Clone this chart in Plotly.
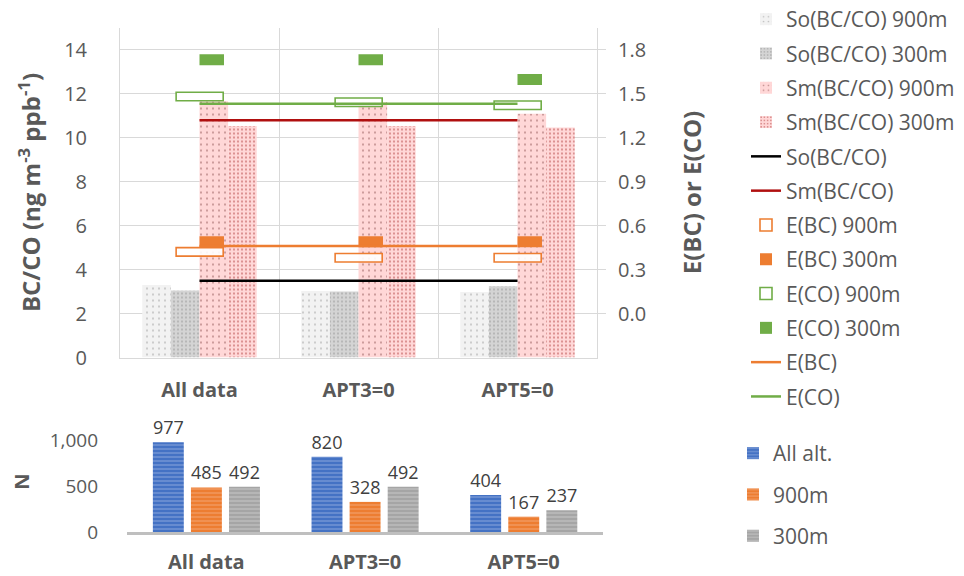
import plotly.graph_objects as go

# ---------------- data ----------------
categories = ["All data", "APT3=0", "APT5=0"]

so_900 = [3.30, 3.02, 2.98]
so_300 = [3.04, 3.00, 3.24]
sm_900 = [11.65, 11.60, 11.08]
sm_300 = [10.52, 10.52, 10.46]
so_mean = [3.49, 3.49, 3.49]
sm_mean = [10.78, 10.78, 10.78]

e_bc_900 = [0.42, 0.38, 0.38]
e_bc_300 = [0.49, 0.49, 0.49]
e_co_900 = [1.48, 1.44, 1.42]
e_co_300 = [1.73, 1.73, 1.595]
e_bc_mean = [0.46, 0.46, 0.46]
e_co_mean = [1.43, 1.43, 1.43]

n_all = [977, 820, 404]
n_900 = [485, 328, 167]
n_300 = [492, 492, 237]

left_ticks = [0, 2, 4, 6, 8, 10, 12, 14]
right_ticks = [0.0, 0.3, 0.6, 0.9, 1.2, 1.5, 1.8]
n_ticks = [0, 500, 1000]

# ---------------- style ----------------
W, H = 964, 576
FONT = "Open Sans"
TXT = "#595959"
GRID = "#d9d9d9"
ORANGE = "#ed7d31"
GREEN = "#70ad47"
BW = 0.18            # top bar width (category units)
HOLLOW_W, HOLLOW_OFF = 0.296, -0.147
FILL_W, FILL_OFF = 0.154, 0.0
HOLLOW_H = 0.058     # marker thickness in right-axis units
FILL_H = 0.075


def bx(p):
    return p / W


def by(p):
    return 1 - p / H


fig = go.Figure()

bar_specs = [
    ("So(BC/CO) 900m", so_900, -2 * BW, "#f2f2f2", "#8c8c8c", 6, 0.09),
    ("So(BC/CO) 300m", so_300, -BW, "#d4d4d4", "#8c8c8c", 4, 0.22),
    ("Sm(BC/CO) 900m", sm_900, 0.0, "#ffd7d7", "#7a3a3a", 6, 0.09),
    ("Sm(BC/CO) 300m", sm_300, BW, "#ffd7d7", "#a62a2a", 4, 0.22),
]
for name, vals, off, bg, fg, size, sol in bar_specs:
    fig.add_trace(go.Bar(
        x=categories, y=vals, name=name, width=BW, offset=off,
        xaxis="x", yaxis="y", legend="legend",
        marker=dict(color=bg, line=dict(width=0),
                    pattern=dict(shape=".", bgcolor=bg, fgcolor=fg,
                                 size=size, solidity=sol)),
        hoverinfo="skip",
    ))

fig.add_trace(go.Scatter(x=categories, y=so_mean, name="So(BC/CO)", mode="lines",
                         line=dict(color="#000000", width=2.5),
                         xaxis="x", yaxis="y", legend="legend"))
fig.add_trace(go.Scatter(x=categories, y=sm_mean, name="Sm(BC/CO)", mode="lines",
                         line=dict(color="#b00f0f", width=2.5),
                         xaxis="x", yaxis="y", legend="legend"))


def e_marker(name, vals, color, hollow):
    h = HOLLOW_H if hollow else FILL_H
    fig.add_trace(go.Bar(
        x=categories, y=[h] * len(vals), base=[v - h / 2 for v in vals],
        name=name,
        width=HOLLOW_W if hollow else FILL_W,
        offset=HOLLOW_OFF if hollow else FILL_OFF,
        xaxis="x", yaxis="y2", legend="legend",
        marker=dict(color="rgba(255,255,255,0.9)" if hollow else color,
                    line=dict(color=color, width=1.6 if hollow else 0)),
        hoverinfo="skip",
    ))


e_marker("E(BC) 900m", e_bc_900, ORANGE, True)
e_marker("E(BC) 300m", e_bc_300, ORANGE, False)
e_marker("E(CO) 900m", e_co_900, GREEN, True)
e_marker("E(CO) 300m", e_co_300, GREEN, False)

fig.add_trace(go.Scatter(x=categories, y=e_bc_mean, name="E(BC)", mode="lines",
                         line=dict(color=ORANGE, width=2.5),
                         xaxis="x", yaxis="y2", legend="legend"))
fig.add_trace(go.Scatter(x=categories, y=e_co_mean, name="E(CO)", mode="lines",
                         line=dict(color=GREEN, width=2.5),
                         xaxis="x", yaxis="y2", legend="legend"))

# ---------------- bottom N chart ----------------
NW = 0.195
n_specs = [
    ("All alt.", n_all, -0.337, "#4472c4", "#a8bde6"),
    ("900m", n_900, -0.097, ORANGE, "#f6b88f"),
    ("300m", n_300, 0.143, "#a5a5a5", "#d6d6d6"),
]
for name, vals, off, col, fg in n_specs:
    fig.add_trace(go.Bar(
        x=categories, y=vals, name=name, width=NW, offset=off,
        xaxis="x2", yaxis="y3", legend="legend2",
        text=[str(v) for v in vals], textposition="outside",
        textfont=dict(family=FONT, size=18, color="#404040"),
        cliponaxis=False,
        marker=dict(color=col, line=dict(width=0),
                    pattern=dict(shape="-", bgcolor=col, fgcolor=fg,
                                 size=4, solidity=0.35)),
        hoverinfo="skip",
    ))

fig.update_layout(
    width=W, height=H,
    margin=dict(l=0, r=0, t=0, b=0, autoexpand=False),
    paper_bgcolor="white", plot_bgcolor="white",
    barmode="overlay",
    font=dict(family=FONT, size=20, color=TXT),
    xaxis=dict(domain=[bx(120), bx(597)], anchor="y", type="category",
               range=[-0.5, 2.5], tickson="boundaries", showgrid=True,
               gridcolor=GRID, gridwidth=1, showline=True, linecolor=GRID,
               linewidth=1, ticks="", ticklabelstandoff=14, automargin=False,
               tickfont=dict(family=FONT, size=20, color=TXT, weight="bold")),
    yaxis=dict(domain=[by(357.5), by(27.5)], anchor="x", range=[0, 15],
               tickvals=left_ticks, showgrid=True, gridcolor=GRID,
               showline=True, linecolor=GRID, zeroline=False, ticks="",
               ticklabelstandoff=28, automargin=False,
               tickfont=dict(family=FONT, size=20, color=TXT),
               title=dict(text="BC/CO (ng m<sup>-3</sup> ppb<sup>-1</sup>)",
                          font=dict(family=FONT, size=24, color=TXT, weight="bold"),
                          standoff=16)),
    yaxis2=dict(overlaying="y", side="right", anchor="x", range=[-0.3, 1.95],
                tickvals=right_ticks, tickformat=".1f", showgrid=False,
                zeroline=False, showline=True, linecolor=GRID, ticks="outside",
                ticklen=8, tickcolor=GRID, ticklabelstandoff=8, automargin=False,
                tickfont=dict(family=FONT, size=20, color=TXT),
                title=dict(text="E(BC) or E(CO)",
                           font=dict(family=FONT, size=24, color=TXT, weight="bold"),
                           standoff=39)),
    xaxis2=dict(domain=[bx(127), bx(603)], anchor="y3", type="category",
                range=[-0.5, 2.5], showgrid=False, showline=True,
                linecolor="#bfbfbf", linewidth=2.5, ticks="", ticklabelstandoff=10,
                automargin=False,
                tickfont=dict(family=FONT, size=20, color=TXT, weight="bold")),
    yaxis3=dict(domain=[by(532), by(431)], anchor="x2", range=[0, 1100],
                tickvals=n_ticks, tickformat=",", showgrid=False, zeroline=False,
                showline=False, ticks="", ticklabelstandoff=28, automargin=False,
                tickfont=dict(family=FONT, size=19, color=TXT),
                title=dict(text="N", font=dict(family=FONT, size=20, color=TXT,
                                               weight="bold"), standoff=14)),
    legend=dict(x=bx(746), y=by(-1), xanchor="left", yanchor="top",
                traceorder="grouped", tracegroupgap=4, maxheight=600,
                font=dict(family=FONT, size=21, color=TXT),
                bgcolor="rgba(0,0,0,0)"),
    legend2=dict(x=bx(733), y=by(433), xanchor="left", yanchor="top",
                 traceorder="grouped", tracegroupgap=11,
                 font=dict(family=FONT, size=21, color=TXT),
                 bgcolor="rgba(0,0,0,0)"),
    showlegend=True,
)

# give each trace its own legend group so tracegroupgap spaces the entries
for i, tr in enumerate(fig.data):
    tr.legendgroup = "g%d" % i

fig.write_html("out.html",
               config={"displayModeBar": False},
               post_script="document.body.style.margin='0';"
                           "document.body.style.padding='0';"
                           "document.body.style.overflow='hidden';"
                           "document.documentElement.style.overflow='hidden';")
